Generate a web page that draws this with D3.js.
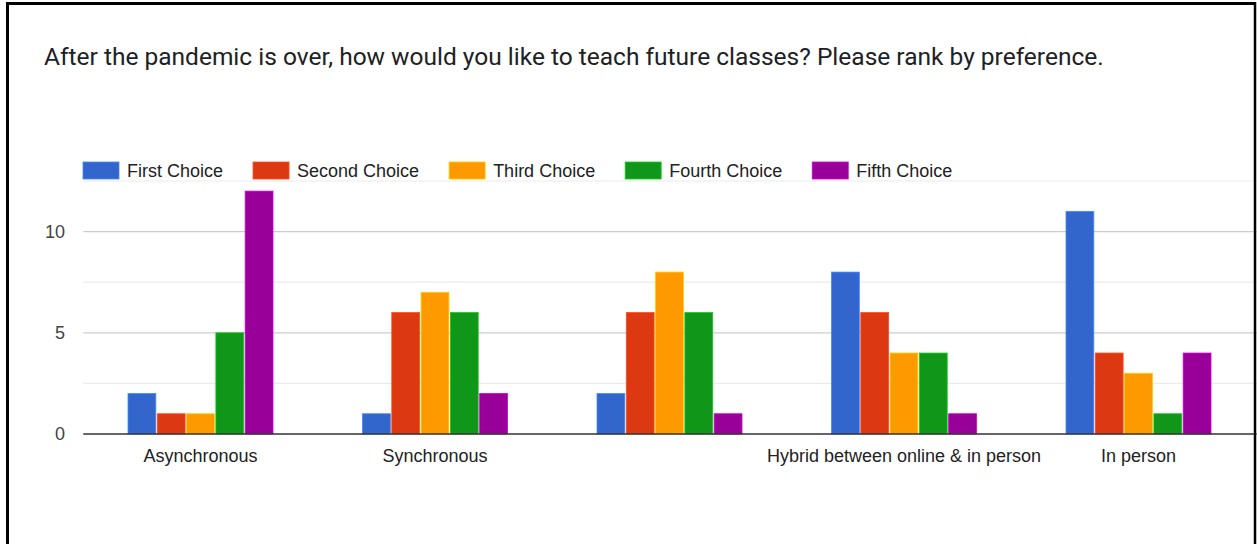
<!DOCTYPE html>
<html><head><meta charset="utf-8">
<script src="https://cdn.jsdelivr.net/npm/d3@7"></script>
<style>html,body{margin:0;padding:0;background:#fff;overflow:hidden}</style>
</head><body>
<svg id="chart" width="1257" height="544"></svg>
<script>
const title = "After the pandemic is over, how would you like to teach future classes? Please rank by preference.";
const categories = ["Asynchronous", "Synchronous", "", "Hybrid between online & in person", "In person"];
const seriesNames = ["First Choice", "Second Choice", "Third Choice", "Fourth Choice", "Fifth Choice"];
const firstChoice  = [2, 1, 2, 8, 11];
const secondChoice = [1, 6, 6, 6, 4];
const thirdChoice  = [1, 7, 8, 4, 3];
const fourthChoice = [5, 6, 6, 4, 1];
const fifthChoice  = [12, 2, 1, 1, 4];
const colors = ["#3366cc", "#dc3912", "#ff9900", "#109618", "#990099"];
const yTicks = [0, 5, 10];
const yMinorTicks = [2.5, 7.5, 12.5];

const series = [firstChoice, secondChoice, thirdChoice, fourthChoice, fifthChoice];
const svg = d3.select("#chart");
const W = 1257, H = 544;
const plot = {left: 83.25, right: 1255.75, top: 181, bottom: 434};
const font = "'Liberation Sans', Arial, sans-serif";

// title
const t = svg.append("text").attr("x", 44).attr("y", 65)
  .attr("font-family", "Roboto, sans-serif").attr("font-size", 24)
  .attr("fill", "#202124").text(title);
const tw = t.node().getComputedTextLength();
t.attr("font-size", 24 * 1060 / tw);

const x0 = d3.scaleBand().domain(d3.range(categories.length)).range([plot.left, plot.right]).padding(0);
const groupW = 145;
const x1 = d3.scaleBand().domain(d3.range(seriesNames.length))
  .range([(x0.bandwidth() - groupW) / 2, (x0.bandwidth() + groupW) / 2]).paddingInner(0.05);
const y = d3.scaleLinear().domain([0, 12.5]).range([plot.bottom, plot.top]);

// gridlines
const g = svg.append("g");
g.selectAll("line.minor").data(yMinorTicks).join("line")
  .attr("x1", plot.left).attr("x2", W).attr("y1", d => y(d)).attr("y2", d => y(d))
  .attr("stroke", "#ebebeb").attr("stroke-width", 1.2);
g.selectAll("line.major").data(yTicks.filter(d => d !== 0)).join("line")
  .attr("x1", plot.left).attr("x2", W).attr("y1", d => y(d)).attr("y2", d => y(d))
  .attr("stroke", "#cccccc").attr("stroke-width", 1.3);

// y axis labels
svg.append("g").selectAll("text").data(yTicks).join("text")
  .attr("x", 65).attr("y", d => y(d)).attr("dy", "0.35em").attr("text-anchor", "end")
  .attr("font-family", font).attr("font-size", 18).attr("fill", "#444").text(d => d);

// bars
const bars = svg.append("g");
series.forEach((vals, si) => {
  bars.selectAll(null).data(vals.map((v, ci) => ({v, ci}))).join("rect")
    .attr("x", d => x0(d.ci) + x1(si))
    .attr("width", x1.bandwidth())
    .attr("y", d => y(d.v))
    .attr("height", d => y(0) - y(d.v))
    .attr("fill", colors[si])
    .attr("stroke", d3.color(colors[si]).brighter(0.8))
    .attr("stroke-width", 0.8);
});

// baseline
svg.append("line").attr("x1", plot.left).attr("x2", W).attr("y1", y(0)).attr("y2", y(0))
  .attr("stroke", "#333").attr("stroke-width", 1.6);

// category labels
svg.append("g").selectAll("text").data(categories).join("text")
  .attr("x", (d, i) => x0(i) + x0.bandwidth() / 2).attr("y", 462)
  .attr("text-anchor", "middle").attr("font-family", font).attr("font-size", 18)
  .attr("fill", "#222").text(d => d);

// legend
const lg = svg.append("g");
let lx = 83;
seriesNames.forEach((name, i) => {
  lg.append("rect").attr("x", lx).attr("y", 162).attr("width", 36).attr("height", 17)
    .attr("fill", colors[i]).attr("stroke", d3.color(colors[i]).brighter(0.8)).attr("stroke-width", 0.8);
  const tx = lg.append("text").attr("x", lx + 44).attr("y", 177)
    .attr("font-family", font).attr("font-size", 18).attr("fill", "#222").text(name);
  lx += 44 + tx.node().getComputedTextLength() + 30;
});

// frame
svg.append("path").attr("d", `M7.5,${H} V3.5 H1255`).attr("fill", "none")
  .attr("stroke", "#000").attr("stroke-width", 3);
svg.append("line").attr("x1", 1255).attr("x2", 1255).attr("y1", 2).attr("y2", H)
  .attr("stroke", "#000").attr("stroke-width", 2.5);
svg.append("line").attr("x1", 1256.8).attr("x2", 1256.8).attr("y1", 2).attr("y2", H)
  .attr("stroke", "#bbb").attr("stroke-width", 0.6);
</script>
</body></html>
